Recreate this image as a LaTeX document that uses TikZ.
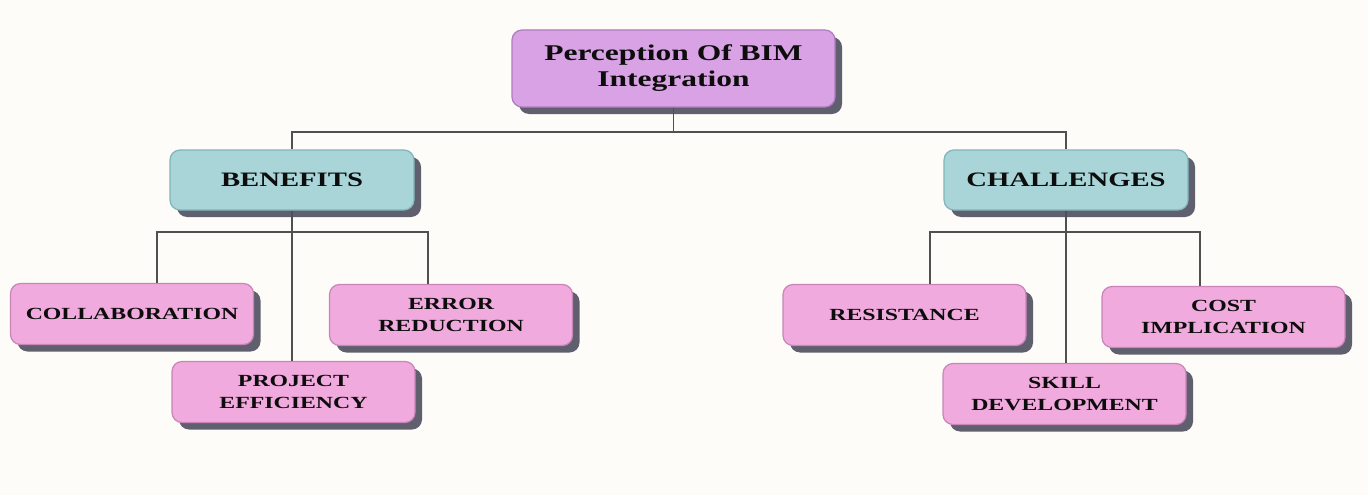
\documentclass[tikz,border=0pt]{standalone}
\usepackage{fontspec}
\setmainfont{Liberation Serif}[FakeStretch=1.4]
\usetikzlibrary{shadows}
\definecolor{bgc}{HTML}{FDFCF8}
\definecolor{topfill}{HTML}{D8A2E4}
\definecolor{topline}{HTML}{B07CC0}
\definecolor{midfill}{HTML}{A9D5D9}
\definecolor{midline}{HTML}{7FB5BB}
\definecolor{leaffill}{HTML}{F0AADD}
\definecolor{leafline}{HTML}{C985B8}
\definecolor{shade}{HTML}{4F4F60}
\definecolor{linec}{HTML}{505050}
\tikzset{
  box/.style={draw, line width=1.2pt, rounded corners=10pt, align=center, inner sep=0pt,
    font=\bfseries, text=black!95,
    drop shadow={shadow xshift=7pt, shadow yshift=-7pt, fill=shade, opacity=0.9}},
  topbox/.style={box, fill=topfill, draw=topline, minimum width=323pt, minimum height=77pt,
    font=\bfseries\fontsize{22.5}{26}\selectfont},
  midbox/.style={box, fill=midfill, draw=midline, minimum width=244pt, minimum height=60pt,
    font=\bfseries\fontsize{20.5}{24}\selectfont},
  leafbox/.style={box, fill=leaffill, draw=leafline, minimum width=243pt, minimum height=61pt,
    font=\bfseries\fontsize{17}{22}\selectfont},
  conn/.style={draw=linec, line width=1.2pt}
}
\begin{document}
\begin{tikzpicture}[x=1pt,y=-1pt]
\useasboundingbox[fill=bgc] (0,0) rectangle (1368,495);
% nodes
\node[topbox] (top) at (673.5,68.5) {Perception Of BIM\\Integration};
\node[midbox] (ben) at (292,180) {BENEFITS};
\node[midbox] (cha) at (1066,180) {CHALLENGES};
\node[leafbox] (col) at (132,314) {COLLABORATION};
\node[leafbox] (err) at (451,315) {ERROR\\REDUCTION};
\node[leafbox] (pro) at (293.5,392) {PROJECT\\EFFICIENCY};
\node[leafbox] (res) at (904.5,315) {RESISTANCE};
\node[leafbox] (cos) at (1223.5,317) {COST\\IMPLICATION};
\node[leafbox] (ski) at (1064.5,394) {SKILL\\DEVELOPMENT};
% junction coordinates
\coordinate (j0) at (673,132);
\coordinate (bl) at (157,232);
\coordinate (br) at (428,232);
\coordinate (cl) at (930,232);
\coordinate (cr) at (1200,232);
% connectors
\draw[conn] (top.south) -- (top.south |- j0);
\draw[conn] (ben.north) -- (ben.north |- j0) -- (cha.north |- j0) -- (cha.north);
\draw[conn] (ben.south) -- (ben.south |- pro.north);
\draw[conn] (bl |- col.north) -- (bl) -- (br) -- (br |- err.north);
\draw[conn] (cha.south) -- (cha.south |- ski.north);
\draw[conn] (cl |- res.north) -- (cl) -- (cr) -- (cr |- cos.north);
\end{tikzpicture}
\end{document}
